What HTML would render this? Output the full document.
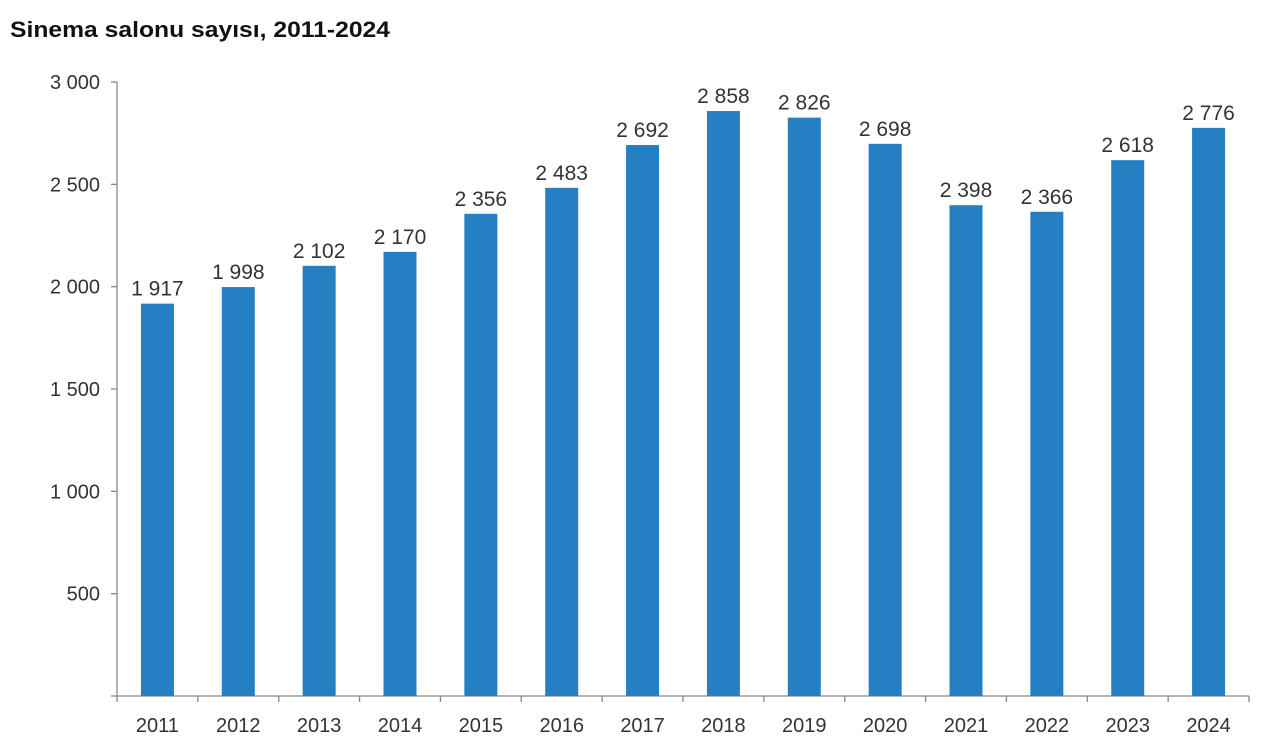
<!DOCTYPE html>
<html><head><meta charset="utf-8"><style>
html,body{margin:0;padding:0;background:#fff;}
svg{display:block;}
text{font-family:"Liberation Sans",Arial,sans-serif;}
</style></head><body>
<svg width="1280" height="751" viewBox="0 0 1280 751" xmlns="http://www.w3.org/2000/svg">
<text x="10" y="37" font-size="22" font-weight="bold" fill="#111" textLength="380" lengthAdjust="spacingAndGlyphs">Sinema salonu sayısı, 2011-2024</text>
<g id="chart"></g>
<script>
(function(){
var ns="http://www.w3.org/2000/svg",g=document.getElementById("chart");
function el(t,a,txt){var e=document.createElementNS(ns,t);for(var k in a)e.setAttribute(k,a[k]);if(txt!=null)e.textContent=txt;g.appendChild(e);return e;}
var x0=117,x1=1249,y0=696,ytop=82,sc=(y0-ytop)/3000;
var data=[1917,1998,2102,2170,2356,2483,2692,2858,2826,2698,2398,2366,2618,2776];
var step=(x1-x0)/14;
el("line",{x1:x0,y1:ytop,x2:x0,y2:y0,stroke:"#888","stroke-width":1.3});
el("line",{x1:x0,y1:y0,x2:x1,y2:y0,stroke:"#888","stroke-width":1.3});
for(var v=0;v<=3000;v+=500){var y=y0-v*sc;
 el("line",{x1:x0-6,y1:y,x2:x0,y2:y,stroke:"#888","stroke-width":1.3});
 if(v>0)el("text",{x:x0-17,y:y+7,"font-size":20,"text-anchor":"end",fill:"#333"},v>=1000?(Math.floor(v/1000)+" "+String(v%1000).padStart(3,"0")):String(v));}
for(var i=0;i<=14;i++){var x=x0+i*step;el("line",{x1:x,y1:y0,x2:x,y2:y0+6,stroke:"#888","stroke-width":1.3});}
data.forEach(function(d,i){var cx=x0+step*(i+0.5),h=d*sc;
 el("rect",{x:cx-16.5,y:y0-h,width:33,height:h,fill:"#2580c3"});
 var s=String(d);el("text",{x:cx,y:y0-h-8,"font-size":21,"text-anchor":"middle",fill:"#333"},s[0]+" "+s.slice(1));
 el("text",{x:cx,y:732,"font-size":20,"text-anchor":"middle",fill:"#333"},String(2011+i));});
})();
</script>
</svg>
</body></html>
